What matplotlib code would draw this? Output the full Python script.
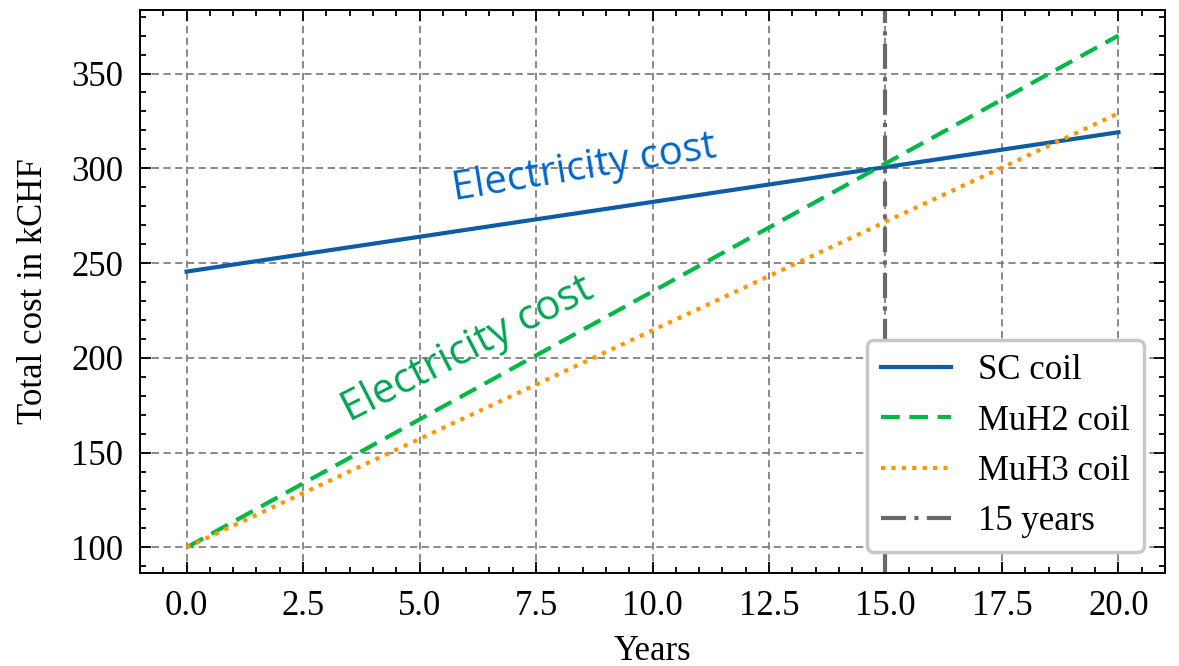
import numpy as np
import matplotlib.pyplot as plt
from matplotlib.ticker import AutoMinorLocator

# Data
years = [0, 20]
sc_coil = [245.5, 319.0]
muh2_coil = [100.0, 370.0]
muh3_coil = [100.0, 329.0]
cutoff_year = 15

plt.rcParams['font.family'] = ['Liberation Serif', 'DejaVu Serif']
plt.rcParams['font.size'] = 25

fig = plt.figure(figsize=(11.79, 6.66), dpi=100)
ax = fig.add_axes([140 / 1179, 1 - 573 / 666, 1025 / 1179, 563 / 666])

ax.plot(years, sc_coil, color='#0C5DA5', lw=3, label='SC coil')
ax.plot(years, muh2_coil, color='#00B945', lw=3, ls=(0, (4.5, 2.3)), label='MuH2 coil')
ax.plot(years, muh3_coil, color='#FF9500', lw=3, ls=(0, (1, 1.5)), label='MuH3 coil')
ax.axvline(cutoff_year, color='dimgray', lw=3, ls=(0, (6, 2, 1, 2)), label='15 years')

ax.text(5.75, 283, 'Electricity cost', color='#0066CC', fontsize=29,
        family='Open Sans', rotation=9.3, rotation_mode='anchor')
ax.text(3.5, 166, 'Electricity cost', color='#00A651', fontsize=30,
        family='Open Sans', rotation=27, rotation_mode='anchor')

ax.set_xticks(np.arange(0, 20.1, 2.5))
ax.set_yticks(np.arange(100, 351, 50))
ax.xaxis.set_minor_locator(AutoMinorLocator(5))
ax.yaxis.set_minor_locator(AutoMinorLocator(5))
ax.tick_params(which='both', direction='in', top=True, right=True, width=1.3)
ax.tick_params(which='major', length=8, pad=12)
ax.tick_params(which='minor', length=4)
for s in ax.spines.values():
    s.set_linewidth(1.4)

ax.grid(True, color='gray', ls=(0, (4, 2.5)), lw=1.3)
ax.set_axisbelow(True)
ax.set_xlabel('Years')
ax.set_ylabel('Total cost in kCHF')
ax.xaxis.set_label_coords(0.5, -0.11)
ax.yaxis.set_label_coords(-0.088, 0.5)

leg = ax.legend(loc='lower right', fontsize=25, fancybox=True, framealpha=1,
                edgecolor='#c8c8c8', handlelength=2.0, borderaxespad=0.6)
leg.get_frame().set_linewidth(2.5)

fig.savefig('out.png', dpi=100)
